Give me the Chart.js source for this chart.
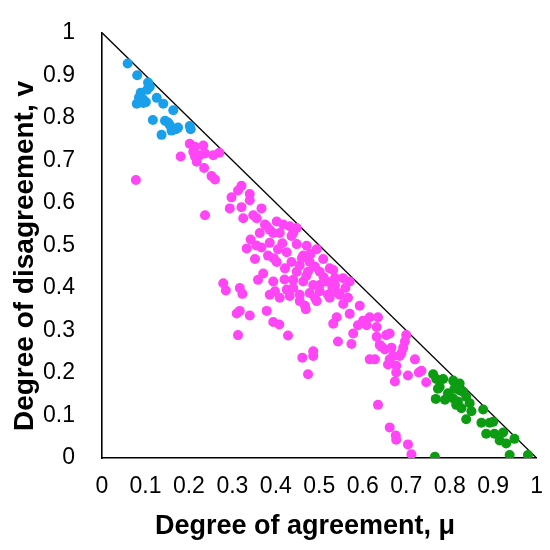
<!DOCTYPE html>
<html>
<head>
<meta charset="utf-8">
<script src="https://cdn.jsdelivr.net/npm/chart.js@4.4.1/dist/chart.umd.min.js"></script>
<style>
  html, body { margin: 0; padding: 0; background: #fff; }
  #wrap { width: 550px; height: 550px; }
</style>
</head>
<body>
<div id="wrap"><canvas id="chart" width="550" height="550"></canvas></div>
<script>
//axis titles
const xTitle = 'Degree of agreement, \u03bc';
const yTitle = 'Degree of disagreement, v';

//points as [mu, nu]
const blueGroup = [
  [0.059,0.928],[0.081,0.900],[0.106,0.883],[0.110,0.873],[0.089,0.859],[0.101,0.837],
  [0.080,0.833],[0.094,0.844],[0.126,0.847],[0.141,0.833],[0.164,0.818],[0.117,0.795],
  [0.145,0.793],[0.156,0.783],[0.170,0.773],[0.160,0.770],[0.137,0.760],[0.202,0.781],
  [0.204,0.773],[0.175,0.777],[0.152,0.789],[0.095,0.835],[0.085,0.848],[0.104,0.866]
];

const pinkGroup = [
  [0.181,0.709],[0.202,0.739],[0.214,0.732],[0.233,0.735],[0.214,0.709],[0.225,0.712],
  [0.237,0.716],[0.218,0.697],[0.256,0.712],[0.270,0.718],[0.235,0.682],[0.252,0.663],
  [0.260,0.655],[0.210,0.720],[0.078,0.654],[0.321,0.640],[0.313,0.629],[0.340,0.621],
  [0.340,0.606],[0.298,0.613],[0.294,0.587],[0.321,0.590],[0.367,0.587],[0.325,0.564],
  [0.348,0.571],[0.356,0.564],[0.237,0.571],[0.375,0.549],[0.402,0.556],[0.417,0.549],
  [0.386,0.537],[0.432,0.545],[0.448,0.541],[0.440,0.529],[0.409,0.529],[0.363,0.529],
  [0.379,0.545],[0.394,0.529],[0.436,0.522],[0.342,0.514],[0.333,0.493],[0.367,0.495],
  [0.386,0.506],[0.405,0.491],[0.352,0.468],[0.382,0.476],[0.402,0.461],[0.425,0.484],
  [0.448,0.503],[0.471,0.499],[0.494,0.491],[0.463,0.476],[0.436,0.461],[0.455,0.453],
  [0.478,0.461],[0.509,0.468],[0.524,0.446],[0.501,0.438],[0.474,0.438],[0.448,0.438],
  [0.421,0.446],[0.371,0.434],[0.359,0.419],[0.394,0.415],[0.279,0.411],[0.285,0.394],
  [0.317,0.400],[0.323,0.386],[0.398,0.392],[0.425,0.396],[0.440,0.419],[0.463,0.415],
  [0.486,0.407],[0.517,0.415],[0.536,0.423],[0.386,0.384],[0.409,0.377],[0.432,0.381],
  [0.455,0.384],[0.478,0.388],[0.501,0.392],[0.455,0.369],[0.467,0.358],[0.494,0.369],
  [0.524,0.377],[0.543,0.388],[0.317,0.346],[0.379,0.346],[0.532,0.442],[0.570,0.415],
  [0.501,0.407],[0.536,0.407],[0.555,0.423],[0.490,0.377],[0.520,0.384],[0.547,0.384],
  [0.566,0.377],[0.469,0.350],[0.555,0.362],[0.593,0.358],[0.570,0.339],[0.540,0.331],
  [0.532,0.316],[0.601,0.323],[0.616,0.331],[0.635,0.331],[0.589,0.312],[0.609,0.312],
  [0.632,0.308],[0.578,0.293],[0.632,0.285],[0.654,0.289],[0.662,0.293],[0.700,0.289],
  [0.543,0.274],[0.574,0.268],[0.639,0.266],[0.651,0.255],[0.666,0.259],[0.697,0.274],
  [0.693,0.259],[0.486,0.251],[0.486,0.240],[0.461,0.236],[0.616,0.232],[0.628,0.232],
  [0.662,0.232],[0.685,0.240],[0.720,0.232],[0.658,0.220],[0.677,0.217],[0.310,0.340],
  [0.340,0.335],[0.394,0.320],[0.408,0.314],[0.313,0.289],[0.428,0.288],[0.474,0.197],
  [0.643,0.262],[0.689,0.247],[0.670,0.240],[0.677,0.201],[0.704,0.194],[0.674,0.180],
  [0.729,0.201],[0.635,0.125],[0.662,0.072],[0.676,0.053],[0.677,0.043],[0.704,0.032],
  [0.712,0.009],[0.735,0.205],[0.746,0.178],
  [0.440,0.400],[0.470,0.428],[0.510,0.425],[0.490,0.450],[0.460,0.470],[0.420,0.420],
  [0.530,0.400],[0.415,0.505],[0.480,0.480],[0.355,0.500],[0.395,0.470],[0.560,0.400]
];

const greenGroup = [
  [0.762,0.197],[0.769,0.186],[0.777,0.167],[0.768,0.139],[0.789,0.137],[0.808,0.182],
  [0.823,0.175],[0.823,0.159],[0.796,0.152],[0.808,0.140],[0.819,0.133],[0.838,0.144],
  [0.846,0.129],[0.827,0.117],[0.850,0.110],[0.838,0.091],[0.877,0.114],[0.873,0.083],
  [0.892,0.083],[0.900,0.085],[0.884,0.057],[0.903,0.057],[0.923,0.060],[0.915,0.041],
  [0.930,0.034],[0.949,0.045],[0.938,0.007],[0.980,0.007],[0.766,0.003],[0.831,0.156],
  [0.815,0.125],[0.773,0.163],[0.785,0.186],[0.811,0.163]
];

//the line mu + nu = 1
const boundary = [[0,1],[1,0]];

const toXY = arr => arr.map(p => ({ x: p[0], y: p[1] }));

//draws both axis titles where the reference has them
const axisTitles = {
  id: 'axisTitles',
  afterDraw(chart) {
    const ctx = chart.ctx;
    ctx.save();
    ctx.fillStyle = '#000';
    ctx.font = 'bold 27px "Liberation Sans", Arial, sans-serif';
    ctx.textAlign = 'center';
    ctx.textBaseline = 'middle';
    ctx.fillText(xTitle, 305, 527);
    ctx.font = 'bold 28px "Liberation Sans", Arial, sans-serif';
    ctx.translate(25, 256);
    ctx.rotate(-Math.PI / 2);
    ctx.fillText(yTitle, 0, 0);
    ctx.restore();
  }
};

const tickFont = { family: '"Liberation Sans", Arial, sans-serif', size: 23 };

new Chart(document.getElementById('chart'), {
  type: 'scatter',
  plugins: [axisTitles],
  data: {
    datasets: [
      {
        type: 'line',
        data: toXY(boundary),
        borderColor: '#000',
        borderWidth: 1.3,
        pointRadius: 0,
        fill: false,
        order: 10,
      },
      {
        data: toXY(blueGroup),
        backgroundColor: '#1aa0ea',
        borderWidth: 0,
        pointRadius: 5,
        order: 1,
      },
      {
        data: toXY(pinkGroup),
        backgroundColor: '#ff45f5',
        borderWidth: 0,
        pointRadius: 5,
        order: 1,
      },
      {
        data: toXY(greenGroup),
        backgroundColor: '#0c9c12',
        borderWidth: 0,
        pointRadius: 5,
        order: 1,
      },
    ],
  },
  options: {
    responsive: false,
    animation: false,
    layout: { padding: { top: 21, right: 13, left: 0, bottom: 0 } },
    plugins: {
      legend: { display: false },
      tooltip: { enabled: false },
    },
    scales: {
      x: {
        type: 'linear',
        min: 0,
        max: 1,
        grid: { display: false },
        border: { color: '#000', width: 1.6 },
        ticks: { stepSize: 0.1, color: '#000', font: tickFont, padding: 7, maxRotation: 0,
                 callback: v => Math.round(v * 10) / 10 },
        afterFit: s => { s.height = 92; },
      },
      y: {
        type: 'linear',
        min: 0,
        max: 1,
        grid: { display: false },
        border: { color: '#000', width: 1.6 },
        ticks: { stepSize: 0.1, color: '#000', font: tickFont, padding: 19,
                 callback: v => Math.round(v * 10) / 10 },
        afterFit: s => { s.width = 102; },
      },
    },
  },
});
</script>
</body>
</html>
